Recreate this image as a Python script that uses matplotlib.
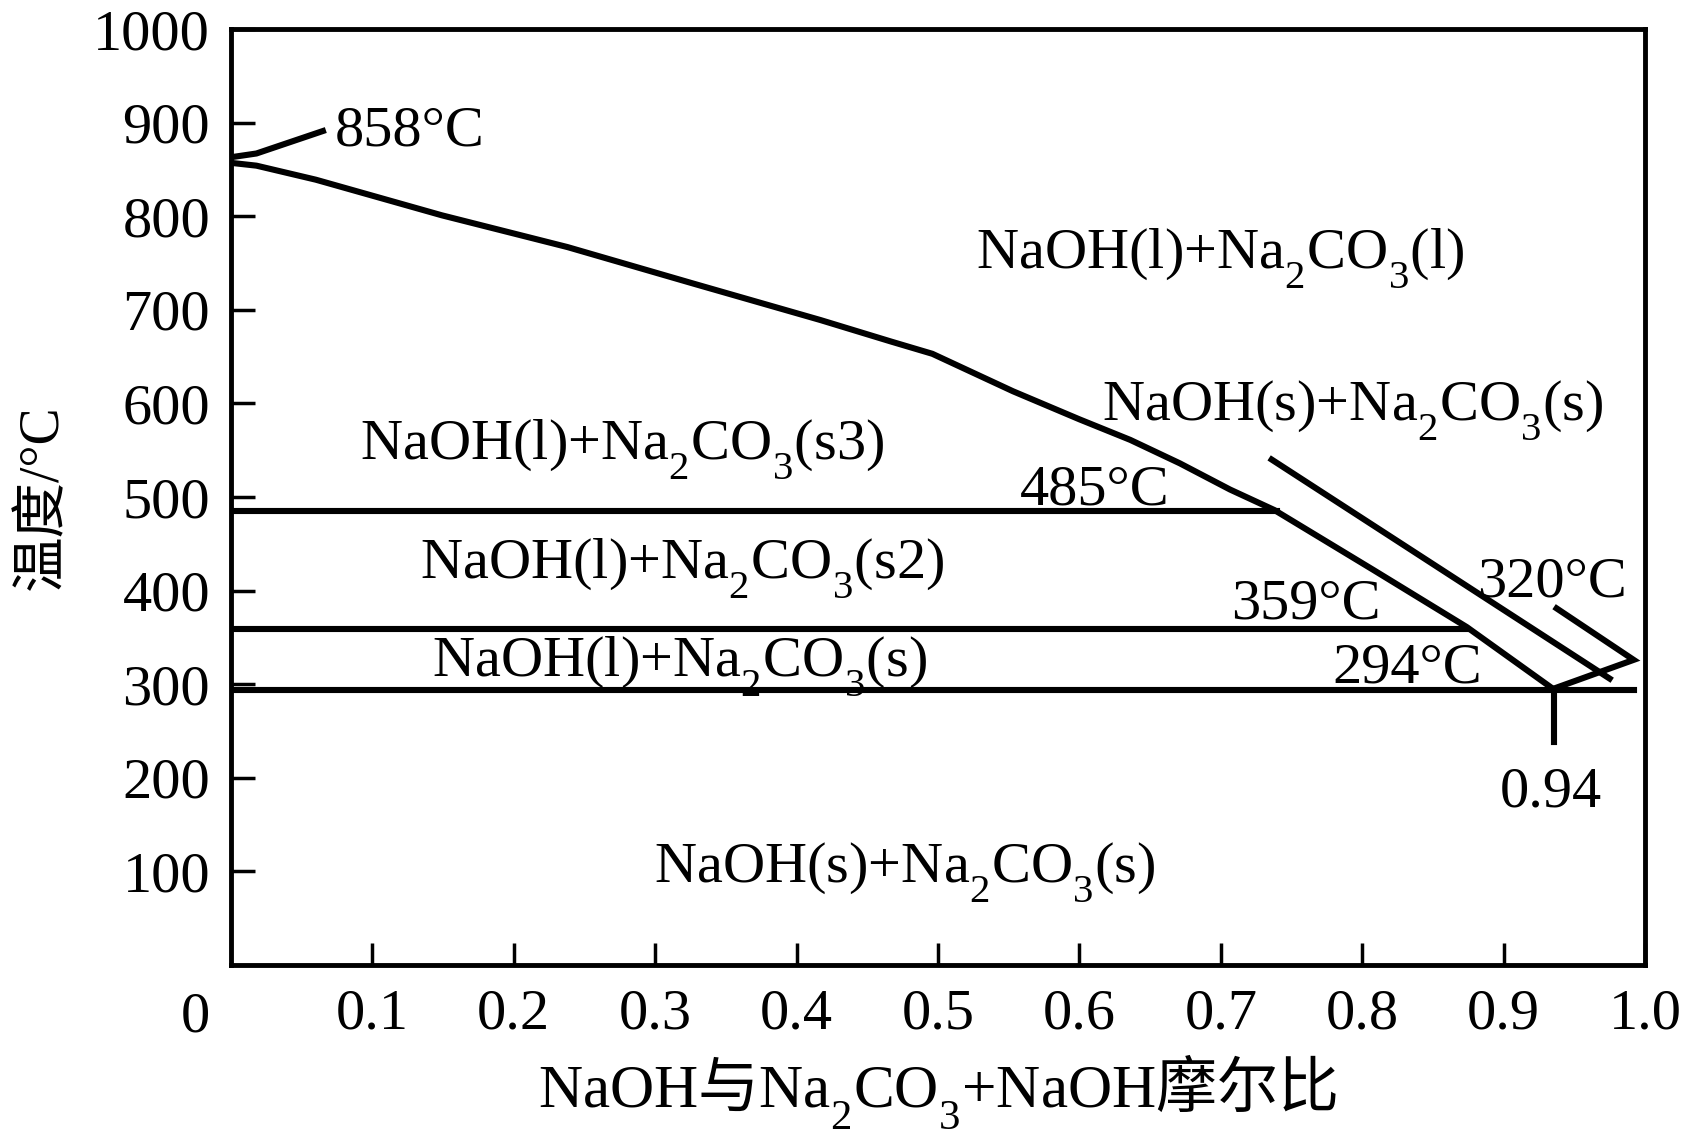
import matplotlib
matplotlib.use("Agg")
import matplotlib.pyplot as plt
from matplotlib.transforms import offset_copy
from matplotlib import _mathtext

plt.rcParams['font.family'] = ['Liberation Serif', 'Noto Sans CJK SC']
plt.rcParams['mathtext.fontset'] = 'custom'
plt.rcParams['mathtext.rm'] = 'Liberation Serif'
plt.rcParams['mathtext.sf'] = 'Noto Sans CJK SC'
plt.rcParams['mathtext.default'] = 'rm'
# subscripts sit lower in the original figure
if hasattr(_mathtext, 'FontConstantsBase'):
    _mathtext.FontConstantsBase.sub1 = 0.8
    _mathtext.FontConstantsBase.subdrop = 0.8

# liquidus curve (NaOH molar fraction, temperature)
liq_x = [0, 0.018, 0.060, 0.149, 0.238, 0.327, 0.417, 0.467, 0.496, 0.553,
         0.600, 0.636, 0.671, 0.7065, 0.738, 0.808, 0.874, 0.935]
liq_y = [857, 854, 839, 801, 767, 728, 689, 666, 653, 613,
         583, 561, 536, 508, 486, 422, 361, 295]

# second boundary line
sol_x = [0.736, 0.975]
sol_y = [540, 306]

# small "<" at the NaOH-rich end
tip_x = [0.935, 0.992, 0.9375]
tip_y = [295, 326, 381]

# horizontal transition lines: temperature, right end
iso_t = [485, 359, 294]
iso_end = [0.7395, 0.874, 0.992]

# leader at the NaOH-free end (858 C)
lead_x = [0, 0.018, 0.065]
lead_y = [863, 867, 891]

eut_x = 0.936
eut_drop = [295, 238]

xticks = [0.1, 0.2, 0.3, 0.4, 0.5, 0.6, 0.7, 0.8, 0.9, 1.0]
xlabels = ['0.1', '0.2', '0.3', '0.4', '0.5', '0.6', '0.7', '0.8', '0.9', '1.0']
yticks = [100, 200, 300, 400, 500, 600, 700, 800, 900, 1000]

# label text, x, y (baseline)
labels = [
    ('858°C', 0.0735, 876),
    ('NaOH(l)+Na$_2$CO$_3$(l)', 0.5266, 744),
    ('NaOH(s)+Na$_2$CO$_3$(s)', 0.616, 582),
    ('NaOH(l)+Na$_2$CO$_3$(s3)', 0.0912, 540),
    ('485°C', 0.558, 492),
    ('NaOH(l)+Na$_2$CO$_3$(s2)', 0.134, 413),
    ('359°C', 0.707, 370),
    ('320°C', 0.881, 394),
    ('NaOH(l)+Na$_2$CO$_3$(s)', 0.142, 309),
    ('294°C', 0.779, 302),
    ('0.94', 0.897, 169),
    ('NaOH(s)+Na$_2$CO$_3$(s)', 0.299, 88),
]

fig = plt.figure(figsize=(16.99, 11.40), dpi=100)
ax = fig.add_axes([0.13596, 0.15351, 0.83225, 0.82105])

lw = 4.4
ax.plot(liq_x, liq_y, color='black', lw=lw, solid_joinstyle='round')
ax.plot(sol_x, sol_y, color='black', lw=lw)
ax.plot(tip_x, tip_y, color='black', lw=lw, solid_joinstyle='miter')
ax.plot(lead_x, lead_y, color='black', lw=lw)
for t, xe in zip(iso_t, iso_end):
    ax.plot([0, xe], [t, t], color='black', lw=lw)
ax.plot([eut_x, eut_x], eut_drop, color='black', lw=lw)

for s, x, y in labels:
    ax.text(x, y, s, fontsize=42, ha='left', va='baseline')

ax.set_xlim(0, 1.0)
ax.set_ylim(0, 1000)
ax.set_xticks(xticks)
ax.set_xticklabels(xlabels)
ax.set_yticks(yticks)
ax.tick_params(axis='x', direction='in', length=16, width=2.5, pad=17, labelsize=42)
ax.tick_params(axis='y', direction='in', length=17, width=2.5, pad=15, labelsize=42)
for sp in ax.spines.values():
    sp.set_linewidth(3.5)

# "0" sits left of the origin
ax.text(0, 0, '0', fontsize=42, ha='center', va='top',
        transform=offset_copy(ax.transData, fig=fig, x=-36, y=-27, units='dots'))

ax.set_xlabel(r'NaOH$\mathsf{与}$Na$_2$CO$_3$+NaOH$\mathsf{摩尔比}$', fontsize=44)
ax.xaxis.label.set_va('baseline')
ax.xaxis.set_label_coords(0.5, -0.1517)
ax.set_ylabel('温度/°C', fontsize=40)
ax.yaxis.label.set_va('center')
ax.yaxis.set_label_coords(-0.133, 0.5)

fig.savefig('out.png', dpi=100)
